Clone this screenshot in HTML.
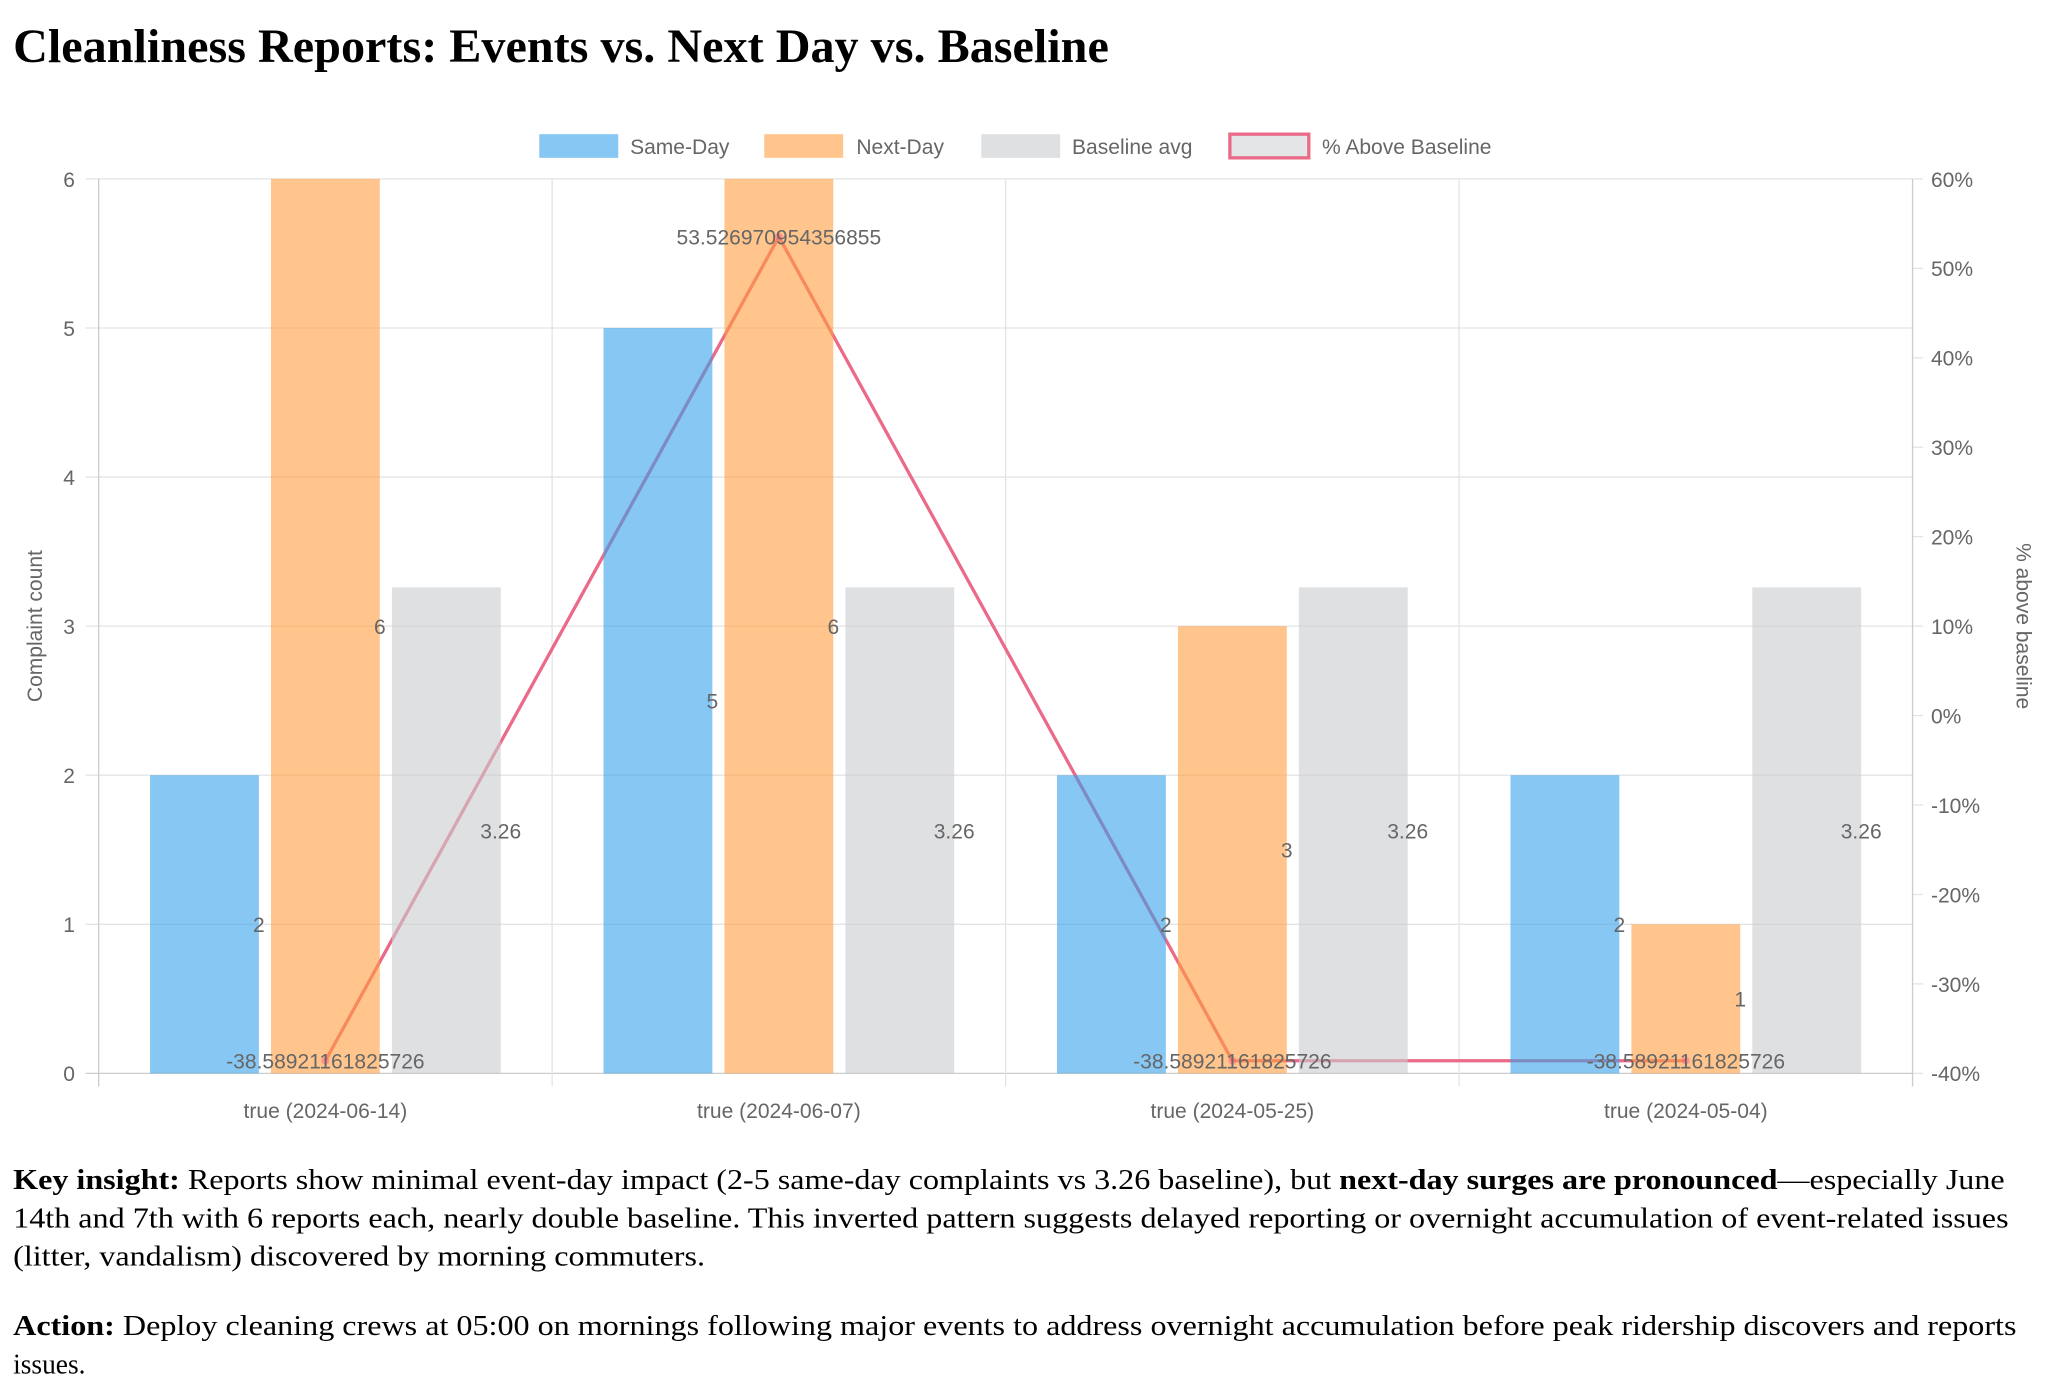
<!DOCTYPE html>
<html><head><meta charset="utf-8"><style>
html,body{margin:0;padding:0;background:#fff;}
svg{display:block;}
</style></head><body>
<svg id="c" width="2052" height="1398" viewBox="0 0 1560 1062.8" xmlns="http://www.w3.org/2000/svg">
<text x="10" y="47" font-family="Liberation Serif, serif" font-weight="bold" font-size="36" fill="#000" textLength="833" lengthAdjust="spacingAndGlyphs">Cleanliness Reports: Events vs. Next Day vs. Baseline</text>
<g id="grid"></g>
<g id="line"></g>
<g id="bars"></g>
<g id="labels"></g>
<g id="axes"></g>
<g font-family="Liberation Sans, sans-serif" font-size="16" fill="#666">
 <g><rect x="410" y="102" width="60" height="18" fill="rgba(54,162,235,0.6)"/><text x="479" y="117">Same-Day</text></g>
 <g><rect x="581" y="102" width="60" height="18" fill="rgba(255,159,64,0.6)"/><text x="651" y="117">Next-Day</text></g>
 <g><rect x="746" y="102" width="60" height="18" fill="rgba(201,203,207,0.6)"/><text x="815" y="117">Baseline avg</text></g>
 <g><rect x="935" y="102" width="60" height="18" fill="rgba(201,203,207,0.5)" stroke="#ea6a87" stroke-width="2.5"/><text x="1005" y="117">% Above Baseline</text></g>
</g>
<text transform="translate(32,476) rotate(-90)" text-anchor="middle" font-family="Liberation Sans, sans-serif" font-size="16" fill="#666">Complaint count</text>
<text transform="translate(1533,476) rotate(90)" text-anchor="middle" font-family="Liberation Sans, sans-serif" font-size="16" fill="#666">% above baseline</text>
<g font-family="Liberation Serif, serif" font-size="21.5" fill="#000">
<text x="10" y="904" textLength="1514" lengthAdjust="spacingAndGlyphs"><tspan font-weight="bold">Key insight:</tspan> Reports show minimal event-day impact (2-5 same-day complaints vs 3.26 baseline), but <tspan font-weight="bold">next-day surges are pronounced</tspan>—especially June</text>
<text x="10" y="933" textLength="1517" lengthAdjust="spacingAndGlyphs">14th and 7th with 6 reports each, nearly double baseline. This inverted pattern suggests delayed reporting or overnight accumulation of event-related issues</text>
<text x="10" y="962" textLength="526" lengthAdjust="spacingAndGlyphs">(litter, vandalism) discovered by morning commuters.</text>
</g>
<g font-family="Liberation Serif, serif" font-size="21.5" fill="#000">
<text x="10" y="1015" textLength="1523" lengthAdjust="spacingAndGlyphs"><tspan font-weight="bold">Action:</tspan> Deploy cleaning crews at 05:00 on mornings following major events to address overnight accumulation before peak ridership discovers and reports</text>
<text x="10" y="1044" textLength="55" lengthAdjust="spacingAndGlyphs">issues.</text>
</g>
</svg>
<script>
const categories = ["true (2024-06-14)","true (2024-06-07)","true (2024-05-25)","true (2024-05-04)"];
const sameDay = [2,5,2,2];
const nextDay = [6,6,3,1];
const baseline = [3.26,3.26,3.26,3.26];
const pctAbove = [-38.58921161825726,53.526970954356855,-38.58921161825726,-38.58921161825726];
const leftTicks = [0,1,2,3,4,5,6];
const rightTicks = [-40,-30,-20,-10,0,10,20,30,40,50,60];

const NS="http://www.w3.org/2000/svg";
const X0=75,X1=1454,Y0=816,Y1=136;
const yL=v=>Y0-(v-0)/(6-0)*(Y0-Y1);
const yR=v=>Y0-(v+40)/100*(Y0-Y1);
const catW=(X1-X0)/categories.length;
const xC=i=>X0+catW*(i+0.5);
function mk(tag,attrs,parent,txt){const e=document.createElementNS(NS,tag);for(const k in attrs)e.setAttribute(k,attrs[k]);if(txt!==undefined)e.textContent=txt;document.getElementById(parent).appendChild(e);return e;}
const F="Liberation Sans, sans-serif";
leftTicks.forEach(t=>{const y=yL(t);
 const g=mk('line',{x1:65,x2:X1,y1:y,y2:y,stroke:t===0?'#ccc':'#e4e4e4','stroke-width':1},'grid');
 
 
 const l=mk('text',{x:57,y:y+6,'text-anchor':'end','font-family':F,'font-size':16,fill:'#666'},'axes',String(t));
 
 
});
rightTicks.forEach(t=>{const y=yR(t);
 const g=mk('line',{x1:X1,x2:1462,y1:y,y2:y,stroke:'#e4e4e4','stroke-width':1},'grid');
 
 
 const l=mk('text',{x:1468,y:y+6,'font-family':F,'font-size':16,fill:'#666'},'axes',t+'%');
 
 
});
for(let i=0;i<=categories.length;i++){const x=X0+catW*i;
 const g=mk('line',{x1:x,x2:x,y1:Y1,y2:826,stroke:(i===0||i===categories.length)?'#ccc':'#e4e4e4','stroke-width':1},'grid');
 
 
}
categories.forEach((c,i)=>{
 const l=mk('text',{x:xC(i),y:850,'text-anchor':'middle','font-family':F,'font-size':16,fill:'#666'},'axes',c);
 
 
});
const pts=pctAbove.map((v,i)=>xC(i)+','+yR(v)).join(' ');
const pl=mk('polyline',{points:pts,fill:'none',stroke:'#ea6a87','stroke-width':2.5},'line');


const slot=catW*0.8/3, bw=slot*0.9;
const series=[[sameDay,'rgba(54,162,235,0.6)','same-day'],[nextDay,'rgba(255,159,64,0.6)','next-day'],[baseline,'rgba(201,203,207,0.6)','baseline']];
series.forEach(([arr,col,nm],s)=>{
 arr.forEach((v,i)=>{
  const cx=xC(i)-catW*0.4+slot*(s+0.5);
  const r=mk('rect',{x:cx-bw/2,y:yL(v),width:bw,height:Y0-yL(v),fill:col},'bars');
  
  
  const t=mk('text',{x:cx+bw/2,y:yL(v/2)+6,'text-anchor':'middle','font-family':F,'font-size':16,fill:'#666'},'labels',String(v));
  
  
 });
});
pctAbove.forEach((v,i)=>{
 const d=mk('circle',{cx:xC(i),cy:yR(v),r:3,fill:'rgba(255,99,132,0.5)'},'labels');
 
 
 const t=mk('text',{x:xC(i),y:yR(v)+6,'text-anchor':'middle','font-family':F,'font-size':16,fill:'#666'},'labels',String(v));
 
 
});
</script>
</body></html>
